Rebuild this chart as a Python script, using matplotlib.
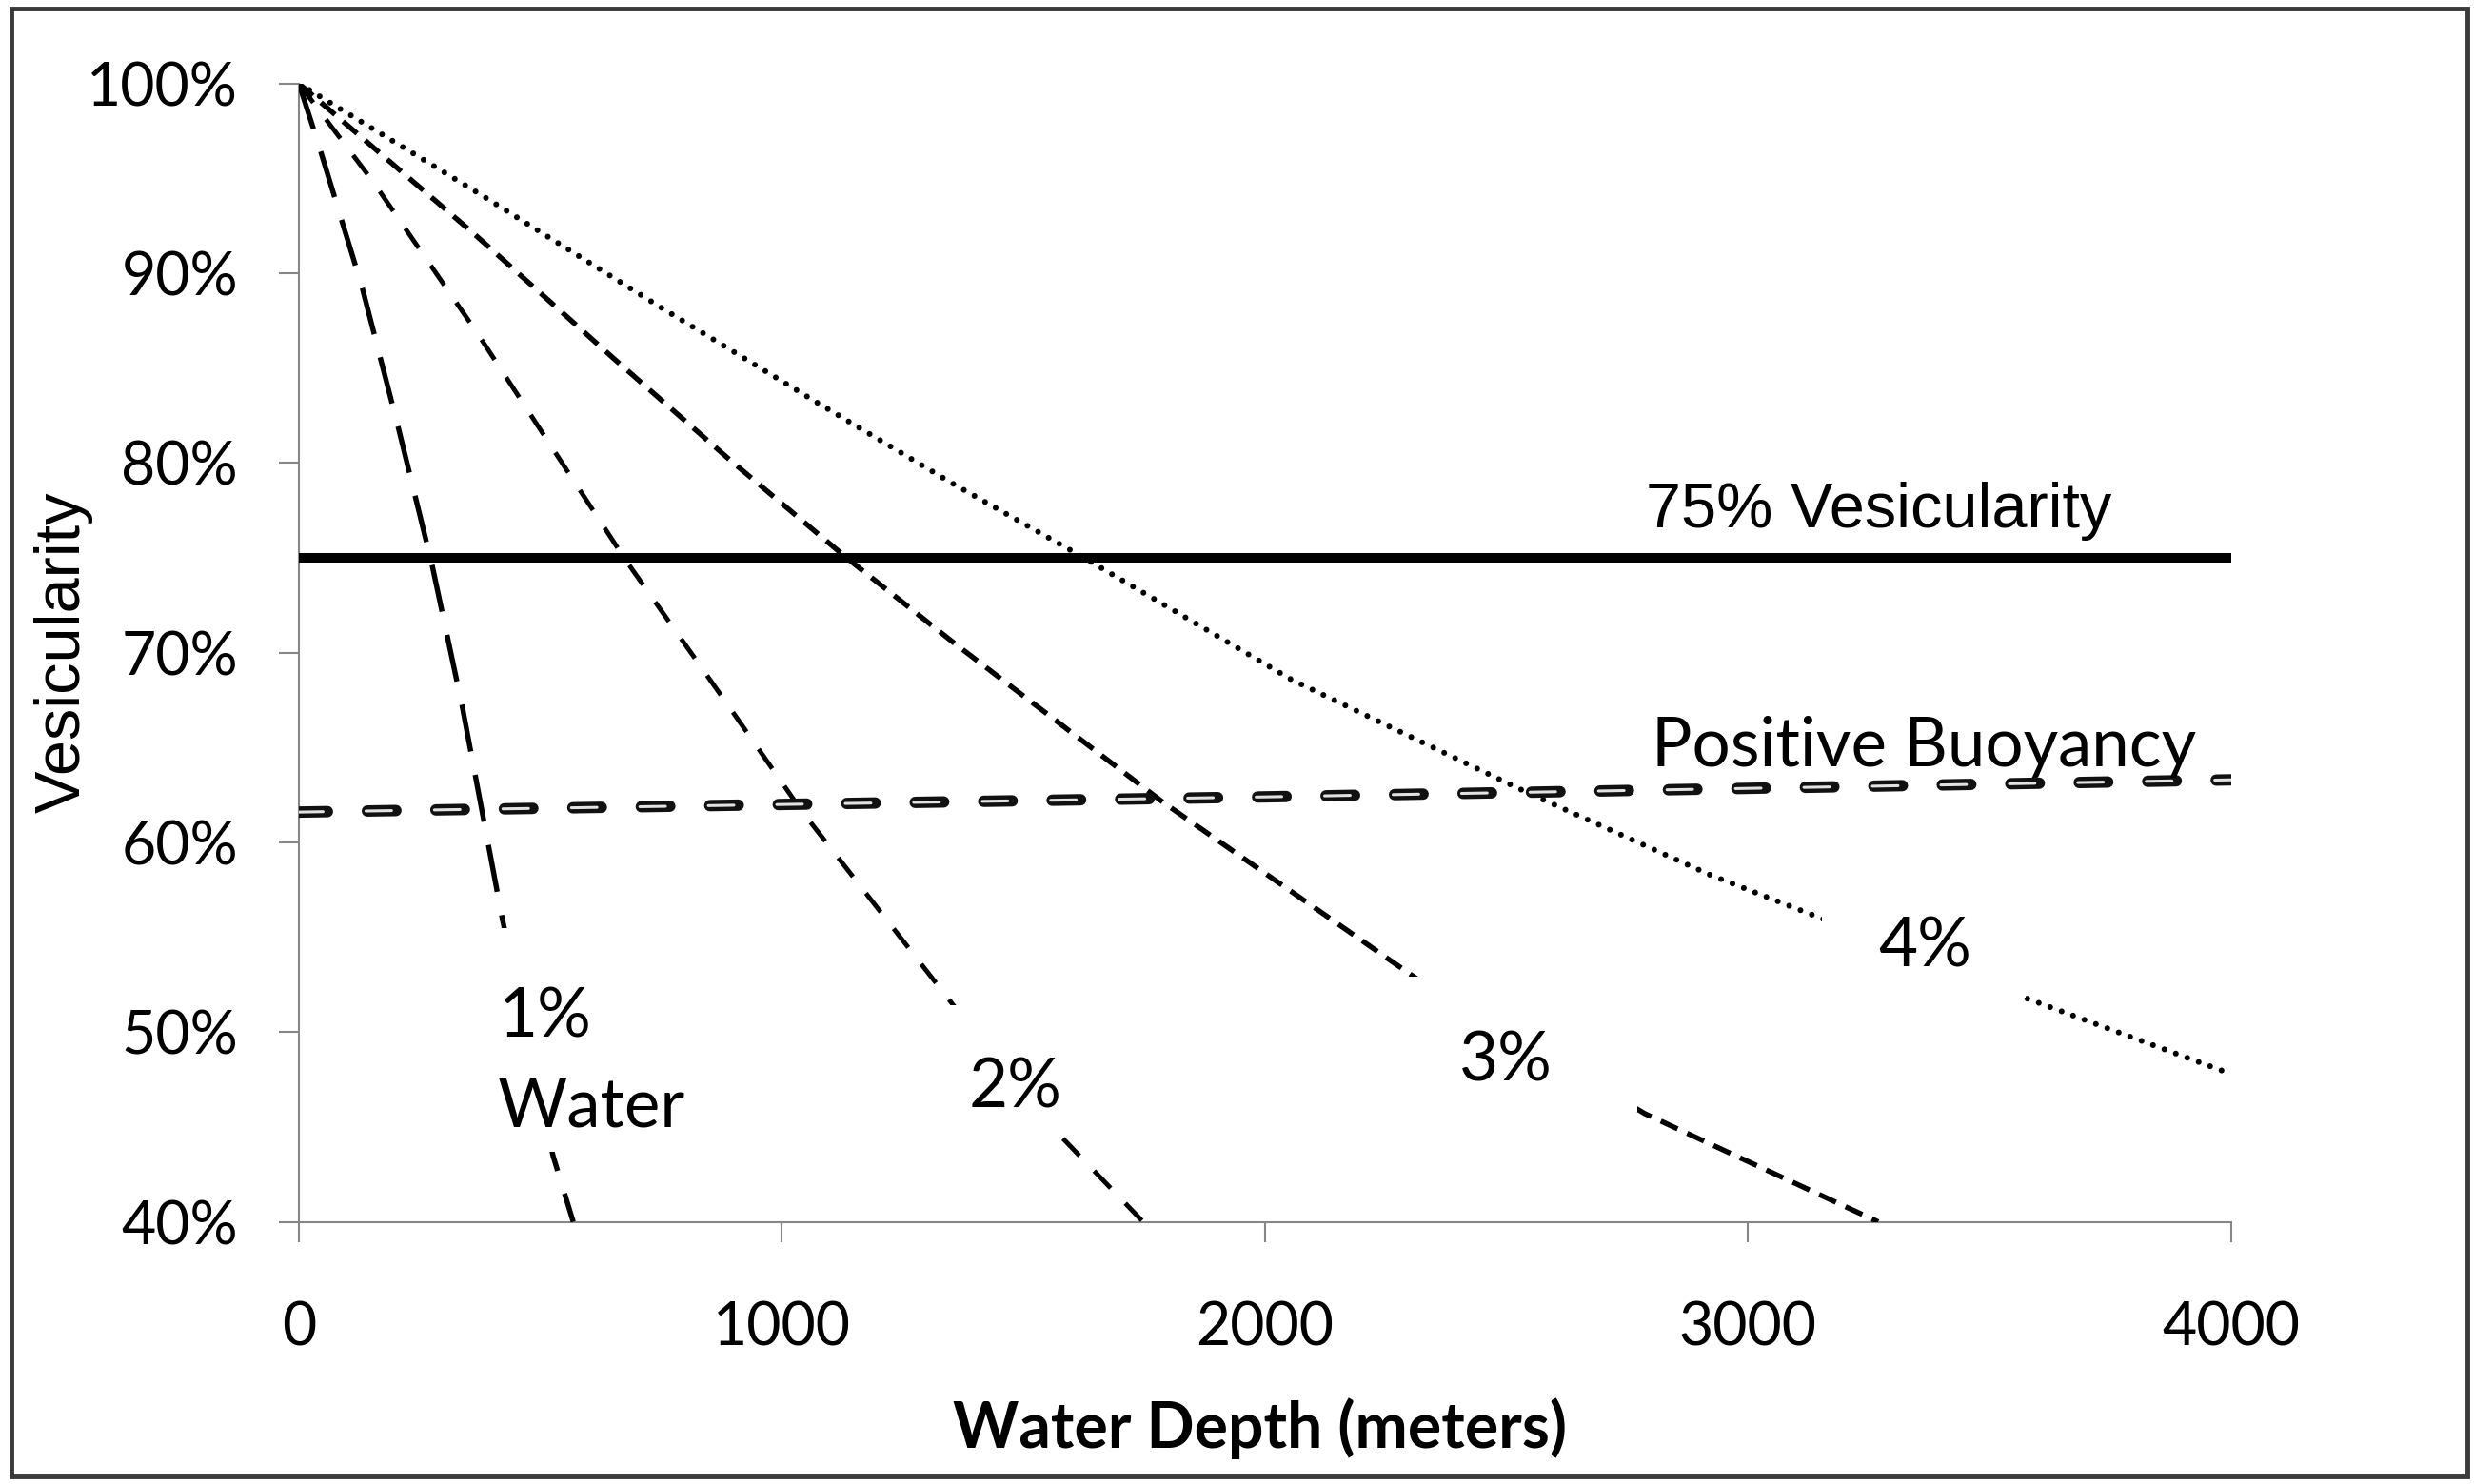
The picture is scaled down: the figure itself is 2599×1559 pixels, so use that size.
import matplotlib.pyplot as plt
from matplotlib.patches import Rectangle
from matplotlib.ticker import FuncFormatter

plt.rcParams['lines.scale_dashes'] = False

# datos (profundidad en m, vesicularidad en %)
prof_1 = [0, 43, 131, 206, 276, 338, 421, 526, 568]
vesi_1 = [100, 96.6, 89.25, 81.85, 74.6, 67.2, 56.0, 43.5, 40.0]

prof_2 = [0, 153, 368, 575, 676, 896, 1041, 1355, 1573, 1748]
vesi_2 = [100, 94.85, 86.9, 78.83, 74.9, 66.96, 61.66, 51.42, 44.63, 40.0]

prof_3 = [0, 364, 650, 892, 1134, 1352, 1790, 2321, 2787, 3270]
vesi_3 = [100, 92.05, 85.55, 80.17, 75.0, 70.6, 62.1, 52.7, 45.7, 40.0]

prof_4 = [0, 382, 747, 1072, 1352, 1619, 2056, 2539, 2921, 3155, 3575, 4000]
vesi_4 = [100, 94.06, 88.24, 83.2, 78.94, 75.1, 68.57, 62.68, 58.3, 55.97, 51.8, 47.8]

prof_flot = [0, 1000, 2000, 3000, 4000]
vesi_flot = [61.6, 62.0, 62.4, 62.85, 63.3]

prof_75 = [0, 4000]
vesi_75 = [75, 75]

ticks_x = [0, 1000, 2000, 3000, 4000]
ticks_y = [40, 50, 60, 70, 80, 90, 100]

calibri = 'Lato'
arial = 'Liberation Sans'
gris = '#868686'

fig = plt.figure(figsize=(2599 / 100, 1559 / 100), dpi=100)
ax = fig.add_axes([314 / 2599, 1 - 1283.6 / 1559, (2343.5 - 314) / 2599, (1283.6 - 87.8) / 1559])

ax.plot(prof_75, vesi_75, color='black', lw=7.2, solid_capstyle='butt', zorder=3)

# positive buoyancy: contorno negro con relleno claro
ax.plot(prof_flot, vesi_flot, color='#111111', lw=8.6, linestyle=(0, (21.6, 30.2)),
        dash_capstyle='round', zorder=4)
ax.plot(prof_flot, vesi_flot, color='#e2e2e2', lw=2.2, linestyle=(1.1, (19.4, 32.4)),
        dash_capstyle='round', zorder=4)

ax.plot(prof_1, vesi_1, color='black', lw=3.9, linestyle=(0, (36, 18)), zorder=3)
ax.plot(prof_2, vesi_2, color='black', lw=3.5, linestyle=(0, (18, 16)), zorder=3)
ax.plot(prof_3, vesi_3, color='black', lw=3.9, linestyle=(0, (14, 8)), zorder=3)
ax.plot(prof_4, vesi_4, color='black', lw=4.4, linestyle=(0, (0.01, 9.2)),
        dash_capstyle='round', zorder=3)

# cajas blancas de las etiquetas (tapan las lineas como en Excel)
cajas = [(297, 911, 43.7, 55.5),
         (1271, 1683, 44.65, 51.42),
         (2288, 2771, 45.8, 52.92),
         (3154, 3575, 51.8, 58.95)]
for x0, x1, y0, y1 in cajas:
    ax.add_patch(Rectangle((x0, y0), x1 - x0, y1 - y0, fc='white', ec='none', zorder=5))

ax.text(412, 45.0, '1%\nWater', family=calibri, fontsize=51, ha='left', va='baseline',
        linespacing=1.55, zorder=6)
ax.text(1386, 46.05, '2%', family=calibri, fontsize=51, ha='left', va='baseline', zorder=6)
ax.text(2403, 47.45, '3%', family=calibri, fontsize=51, ha='left', va='baseline', zorder=6)
ax.text(3270, 53.47, '4%', family=calibri, fontsize=51, ha='left', va='baseline', zorder=6)
ax.text(2801, 64.02, 'Positive Buoyancy', family=calibri, fontsize=51, ha='left',
        va='baseline', zorder=6)
ax.text(2789, 76.6, '75% Vesicularity', family=arial, fontsize=48, ha='left',
        va='baseline', zorder=6)

ax.set_xlim(0, 4000)
ax.set_ylim(40, 100)
ax.set_xticks(ticks_x)
ax.set_yticks(ticks_y)
ax.yaxis.set_major_formatter(FuncFormatter(lambda v, p: f'{v:.0f}%'))

for s in ['top', 'right']:
    ax.spines[s].set_visible(False)
for s in ['left', 'bottom']:
    ax.spines[s].set_color(gris)
    ax.spines[s].set_linewidth(1.5)

ax.tick_params(axis='both', direction='out', length=15, width=1.5, color=gris,
               labelsize=45)
ax.tick_params(axis='y', pad=31)
ax.tick_params(axis='x', pad=45)
for t in ax.get_xticklabels() + ax.get_yticklabels():
    t.set_family(calibri)

ax.set_xlabel('Water Depth (meters)', family=calibri, fontsize=47.5, fontweight='bold')
ax.xaxis.set_label_coords(0.4974, -0.1545)
ax.set_ylabel('Vesicularity', family=arial, fontsize=48)
ax.yaxis.set_label_coords(-0.1064, 0.5)

# marco exterior
fig.patches.append(Rectangle((12 / 2599, 1 - 1551 / 1559), 2580 / 2599, 1542 / 1559,
                             transform=fig.transFigure, fill=False, ec='#3a3a3a', lw=3.5))

fig.savefig('out.png', dpi=100)
